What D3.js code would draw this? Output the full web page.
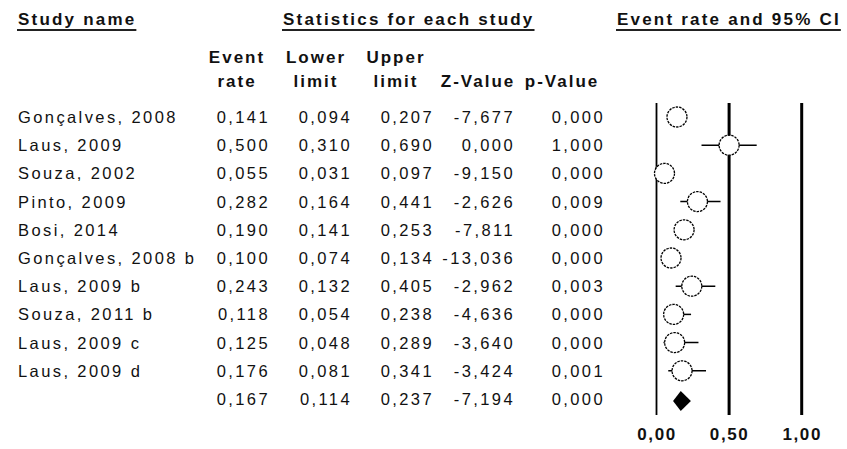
<!DOCTYPE html>
<meta charset="utf-8">
<style>

    body {
        margin: 0;
        background: #fff;
    }

    text {
        font-family: "Liberation Sans", Arial, sans-serif;
        fill: #111;
    }

    .cell {
        font-size: 16.5px;
        letter-spacing: 2.4px;
    }

    .head {
        font-size: 17px;
        font-weight: bold;
        letter-spacing: 2px;
    }

    .title {
        font-size: 17px;
        font-weight: bold;
        letter-spacing: 2.2px;
    }

    .underline {
        stroke: #222;
        stroke-width: 2px;
    }

    .ci {
        stroke: #000;
        stroke-width: 1.5px;
    }

    .point {
        fill: #fff;
        stroke: #000;
        stroke-width: 1.3px;
        stroke-dasharray: 2.5 1;
    }

    .ref {
        stroke: #000;
    }

    .axis text {
        font-size: 17px;
        font-weight: bold;
        letter-spacing: 1.6px;
    }

</style>
<svg></svg>
<script src="https://cdn.jsdelivr.net/npm/d3@7"></script>
<script>

    var width = 847,
        height = 449;

    // study rows, last entry is the pooled estimate
    var studies = ["Gonçalves, 2008", "Laus, 2009", "Souza, 2002", "Pinto, 2009", "Bosi, 2014",
        "Gonçalves, 2008 b", "Laus, 2009 b", "Souza, 2011 b", "Laus, 2009 c", "Laus, 2009 d", ""];
    var eventRate = [0.141, 0.500, 0.055, 0.282, 0.190, 0.100, 0.243, 0.118, 0.125, 0.176, 0.167];
    var lowerLimit = [0.094, 0.310, 0.031, 0.164, 0.141, 0.074, 0.132, 0.054, 0.048, 0.081, 0.114];
    var upperLimit = [0.207, 0.690, 0.097, 0.441, 0.253, 0.134, 0.405, 0.238, 0.289, 0.341, 0.237];
    var zValue = [-7.677, 0.000, -9.150, -2.626, -7.811, -13.036, -2.962, -4.636, -3.640, -3.424, -7.194];
    var pValue = [0.000, 1.000, 0.000, 0.009, 0.000, 0.000, 0.003, 0.000, 0.000, 0.001, 0.000];

    var axisTicks = [0, 0.5, 1];
    var refLines = [0, 0.5, 1];

    // decimal comma and a plain hyphen for negatives
    var comma = function(f) { return function(v) { return f(v).replace(".", ",").replace("\u2212", "-"); }; };
    var f3 = comma(d3.format(".3f")),
        f2 = comma(d3.format(".2f"));

    var svg = d3.select("svg")
        .attr("width", width)
        .attr("height", height);

    var rows = d3.range(studies.length);
    var y = d3.scalePoint()
        .domain(rows)
        .range([117, 399]);

    var x = d3.scaleLinear()
        .domain([0, 1])
        .range([656.5, 801.7]);

    // --- section titles
    var titles = [
        {text: "Study name", x: 18},
        {text: "Statistics for each study", x: 283},
        {text: "Event rate and 95% CI", x: 617}
    ];
    titles.forEach(function(t) {
        var node = svg.append("text")
            .attr("class", "title")
            .attr("x", t.x)
            .attr("y", 25)
            .text(t.text);
        var w = node.node().getComputedTextLength();
        svg.append("line")
            .attr("class", "underline")
            .attr("x1", t.x - 1)
            .attr("x2", Math.min(t.x + w, width))
            .attr("y1", 30)
            .attr("y2", 30);
    });

    // --- column headers (right edge of each numeric column)
    var columns = [
        {head: ["Event", "rate"], right: 268, values: eventRate, fmt: f3, cx: 237},
        {head: ["Lower", "limit"], right: 350, values: lowerLimit, fmt: f3, cx: 316},
        {head: ["Upper", "limit"], right: 432, values: upperLimit, fmt: f3, cx: 396},
        {head: ["", "Z-Value"], right: 513, values: zValue, fmt: f3, cx: 478},
        {head: ["", "p-Value"], right: 603, values: pValue, fmt: f3, cx: 562}
    ];

    columns.forEach(function(c) {
        c.head.forEach(function(h, k) {
            svg.append("text")
                .attr("class", "head")
                .attr("x", c.cx)
                .attr("y", 63 + k * 24)
                .attr("text-anchor", "middle")
                .text(h);
        });
        svg.selectAll(null)
            .data(rows)
            .enter().append("text")
            .attr("class", "cell")
            .attr("x", c.right + 2)
            .attr("y", function(i) { return y(i) + 6; })
            .attr("text-anchor", "end")
            .text(function(i) { return c.fmt(c.values[i]); });
    });

    svg.selectAll(".name")
        .data(rows)
        .enter().append("text")
        .attr("class", "cell name")
        .attr("x", 18)
        .attr("y", function(i) { return y(i) + 6; })
        .text(function(i) { return studies[i]; });

    // --- forest plot
    svg.selectAll(".ref")
        .data(refLines)
        .enter().append("line")
        .attr("class", "ref")
        .attr("x1", function(d) { return x(d); })
        .attr("x2", function(d) { return x(d); })
        .attr("y1", 103)
        .attr("y2", 415)
        .attr("stroke-width", function(d) { return d === 0 ? 1.8 : 3; });

    var single = rows.slice(0, rows.length - 1),
        pooled = rows.length - 1;

    svg.selectAll(".ci")
        .data(single)
        .enter().append("line")
        .attr("class", "ci")
        .attr("x1", function(i) { return x(lowerLimit[i]); })
        .attr("x2", function(i) { return x(upperLimit[i]); })
        .attr("y1", function(i) { return y(i); })
        .attr("y2", function(i) { return y(i); });

    svg.selectAll(".point")
        .data(single)
        .enter().append("circle")
        .attr("class", "point")
        .attr("cx", function(i) { return x(eventRate[i]); })
        .attr("cy", function(i) { return y(i); })
        .attr("r", 10);

    var yp = y(pooled) + 2;
    svg.append("path")
        .attr("d", "M" + x(lowerLimit[pooled]) + "," + yp +
            "L" + x(eventRate[pooled]) + "," + (yp - 10) +
            "L" + x(upperLimit[pooled]) + "," + yp +
            "L" + x(eventRate[pooled]) + "," + (yp + 10) + "Z")
        .attr("fill", "#000");

    var axis = d3.axisBottom(x)
        .tickValues(axisTicks)
        .tickFormat(f2)
        .tickSize(0)
        .tickPadding(0);

    svg.append("g")
        .attr("class", "axis")
        .attr("transform", "translate(0,428)")
        .call(axis)
        .call(function(g) { g.select(".domain").remove(); })
        .selectAll("text")
        .attr("fill", "#111");

</script>
